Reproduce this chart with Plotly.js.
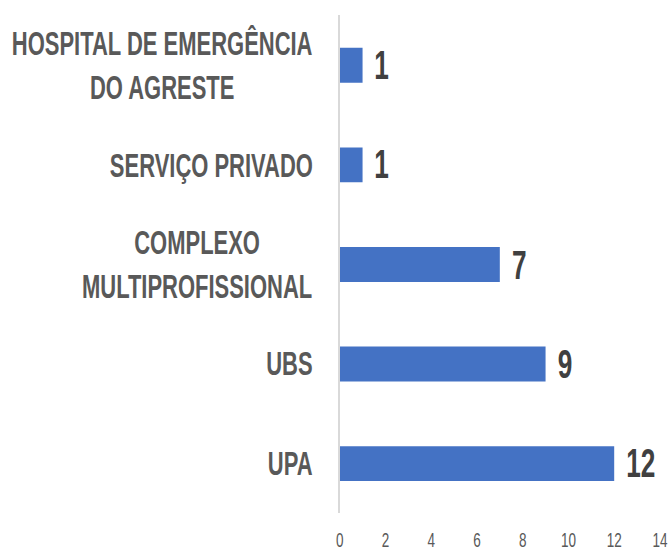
<!DOCTYPE html>
<html>
<head>
<meta charset="utf-8">
<script src="https://cdn.plot.ly/plotly-3.0.1.min.js"></script>
<style>
  html, body { margin: 0; padding: 0; background: #ffffff; overflow: hidden; }
  #wrap { width: 671px; height: 553px; overflow: hidden; position: relative; }
  #chart { position: absolute; left: 0; top: 0; width: 794.1px; height: 440px; transform: scale(0.845, 1.29); transform-origin: 0 0; }
</style>
</head>
<body>
<div id="wrap"><div id="chart"></div></div>
<script>
// Data (top to bottom as shown)
const categories = ["HOSPITAL DE EMERGÊNCIA DO AGRESTE", "SERVIÇO PRIVADO", "COMPLEXO MULTIPROFISSIONAL", "UBS", "UPA"];
const labels = ["HOSPITAL DE EMERGÊNCIA<br>DO AGRESTE", "SERVIÇO PRIVADO", "COMPLEXO<br>MULTIPROFISSIONAL", "UBS", "UPA"];
const values = [1, 1, 7, 9, 12];
const xTicks = [0, 2, 4, 6, 8, 10, 12, 14];

const trace = {
  type: "bar",
  orientation: "h",
  y: categories,
  x: values,
  marker: { color: "#4472C4", line: { width: 0 } },
  hoverinfo: "none"
};

const annotations = [];
categories.forEach((c, i) => {
  annotations.push({
    xref: "paper", yref: "y", x: 0, y: c,
    xanchor: "right", yanchor: "middle", align: "center",
    xshift: -30,
    text: labels[i], showarrow: false,
    font: { family: "Liberation Sans, Arial, sans-serif", size: 26, color: "#595959", weight: "bold" }
  });
  annotations.push({
    xref: "x", yref: "y", x: values[i], y: c,
    xanchor: "left", yanchor: "middle",
    xshift: 12,
    text: String(values[i]), showarrow: false,
    font: { family: "Liberation Sans, Arial, sans-serif", size: 31, color: "#404040", weight: "bold" }
  });
});

const layout = {
  width: 794.1, height: 440,
  margin: { l: 402.4, r: 13, t: 11.6, b: 42.3 },
  paper_bgcolor: "#ffffff", plot_bgcolor: "#ffffff",
  bargap: 0.65,
  showlegend: false,
  xaxis: {
    range: [0, 14], tickvals: xTicks, ticktext: xTicks.map(String),
    showgrid: false, zeroline: false, showline: false, ticks: "",
    ticklabelstandoff: 9,
    tickfont: { family: "Liberation Sans, Arial, sans-serif", size: 16, color: "#595959" },
    fixedrange: true
  },
  yaxis: {
    type: "category", categoryorder: "array", categoryarray: categories,
    autorange: "reversed",
    showticklabels: false, showgrid: false, zeroline: false,
    showline: true, linecolor: "#d9d9d9", linewidth: 2, ticks: "",
    fixedrange: true
  },
  annotations: annotations
};

Plotly.newPlot("chart", [trace], layout, { displayModeBar: false, staticPlot: true });
</script>
</body>
</html>
